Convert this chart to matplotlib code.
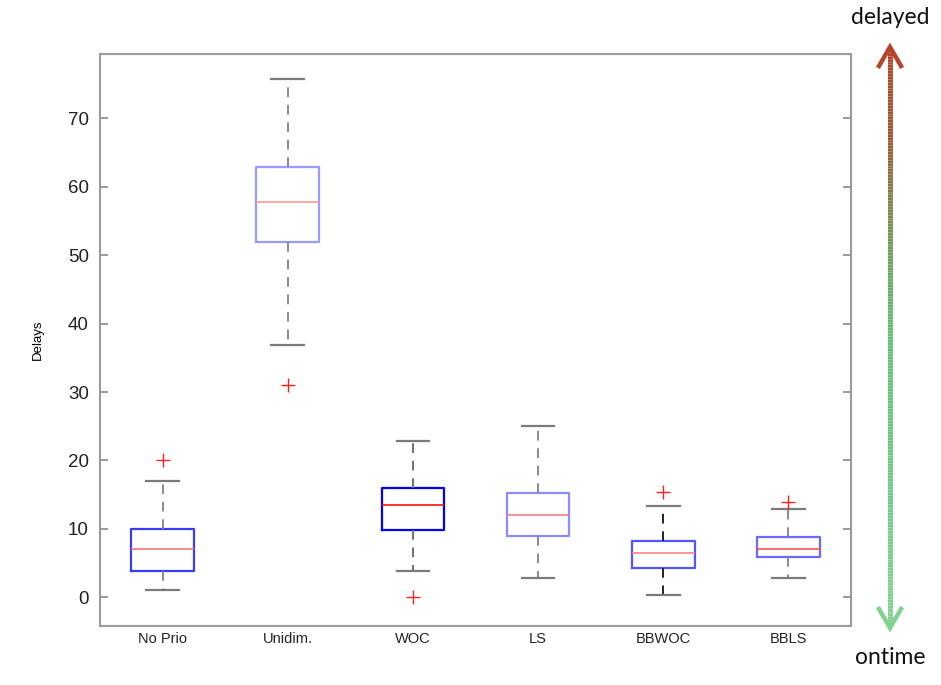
import numpy as np
import matplotlib
matplotlib.use('Agg')
import matplotlib.pyplot as plt
from matplotlib.collections import LineCollection
from matplotlib.colors import LinearSegmentedColormap

# Delay distributions per prioritisation scheme (five-number summaries + outliers)
schemes = ['No Prio', 'Unidim.', 'WOC', 'LS', 'BBWOC', 'BBLS']
whisker_lo = [1.0, 36.8, 3.9, 2.8, 0.4, 2.8]
q1 = [3.8, 51.9, 9.9, 8.9, 4.3, 5.9]
median = [7.0, 57.7, 13.5, 12.0, 6.4, 7.0]
q3 = [10.0, 62.9, 16.0, 15.3, 8.2, 8.8]
whisker_hi = [17.0, 75.8, 22.9, 25.0, 13.3, 12.9]
outliers = [[20.0], [31.0], [0.0], [], [15.4], [13.9]]

box_colors = ['#3a3aff', '#9a9aff', '#0000ff', '#8c8cff', '#5555ff', '#6a6aff']
median_colors = ['#ff7070', '#ff9a9a', '#ff1010', '#ff7d7d', '#ff8080', '#ff5050']
whisker_colors = ['#8a8a8a', '#8a8a8a', '#707070', '#8a8a8a', '#222222', '#8a8a8a']

W, H = 941, 685
fig = plt.figure(figsize=(W / 100, H / 100), dpi=100)
ax = fig.add_axes([100 / W, 1 - 626 / H, 751 / W, 572 / H])

stats = []
for i, name in enumerate(schemes):
    stats.append(dict(label=name, whislo=whisker_lo[i], q1=q1[i], med=median[i],
                      q3=q3[i], whishi=whisker_hi[i], fliers=outliers[i]))

parts = ax.bxp(stats, positions=range(1, len(schemes) + 1), widths=0.5,
               capwidths=0.26, showfliers=True, patch_artist=False)

for i in range(len(schemes)):
    parts['boxes'][i].set(color=box_colors[i], linewidth=1.6)
    parts['medians'][i].set(color=median_colors[i], linewidth=1.2)
    for w in parts['whiskers'][2 * i:2 * i + 2]:
        w.set(color=whisker_colors[i], linewidth=1.4, linestyle=(0, (5, 4)))
    for c in parts['caps'][2 * i:2 * i + 2]:
        c.set(color='#7a7a7a', linewidth=1.6)
    parts['fliers'][i].set(marker='+', markeredgecolor='#ff2020',
                           markersize=10, markeredgewidth=1.0)

ax.set_xlim(0.5, 6.5)
ax.set_ylim(-4.2, 79.4)
ax.set_yticks(np.arange(0, 71, 10))
ax.tick_params(axis='y', direction='in', length=6, width=1.2, color='#888888',
               right=True, labelsize=13.5, labelcolor='#222222', pad=8)
ax.tick_params(axis='x', length=0, labelsize=10.5, labelcolor='#222222', pad=4)
for lab in ax.get_xticklabels() + ax.get_yticklabels():
    lab.set_family('Liberation Sans')
for s in ax.spines.values():
    s.set_color('#9a9a9a')
    s.set_linewidth(1.5)
ax.set_ylabel('Delays', fontsize=9.5, family='Liberation Sans', labelpad=17)

# vertical "delayed" <-> "ontime" arrow to the right of the axes
x_px = 890
y_top, y_bot = H - 47, H - 628
ys = np.linspace(y_top - 3, y_bot + 3, 200)
segs = [[(x_px / W, ys[k] / H), (x_px / W, ys[k + 1] / H)] for k in range(len(ys) - 1)]
cmap = LinearSegmentedColormap.from_list(
    'delay', [(0.0, '#b4452a'), (0.15, '#9a5a30'), (0.35, '#6fa060'),
              (0.5, '#62c073'), (1.0, '#82d292')])
t = np.linspace(0, 1, len(segs))
lc = LineCollection(segs, colors=cmap(t), linewidths=3.6, transform=fig.transFigure)
fig.add_artist(lc)

head = 19
fig.add_artist(plt.Line2D([(x_px - 11) / W, x_px / W, (x_px + 11) / W],
                          [(y_top - head) / H, y_top / H, (y_top - head) / H],
                          color='#b4452a', linewidth=3.2, solid_joinstyle='miter',
                          transform=fig.transFigure))
fig.add_artist(plt.Line2D([(x_px - 11) / W, x_px / W, (x_px + 11) / W],
                          [(y_bot + head) / H, y_bot / H, (y_bot + head) / H],
                          color='#82d292', linewidth=3.2, solid_joinstyle='miter',
                          transform=fig.transFigure))

fig.text(890 / W, 1 - 17 / H, 'delayed', ha='center', va='center',
         fontsize=16.5, family='Lato', color='#111111')
fig.text(890 / W, 1 - 658 / H, 'ontime', ha='center', va='center',
         fontsize=16.5, family='Lato', color='#111111')

fig.savefig('out.png', dpi=100)
